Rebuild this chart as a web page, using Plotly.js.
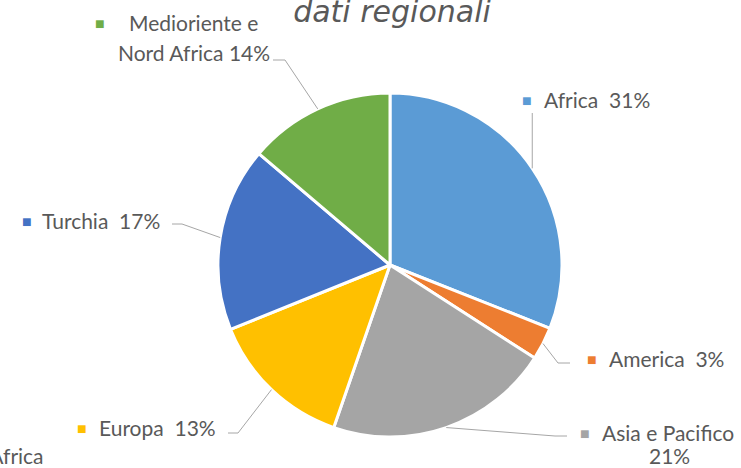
<!DOCTYPE html>
<html>
<head>
<meta charset="utf-8">
<script src="https://cdn.plot.ly/plotly-3.0.1.min.js"></script>
<style>html,body{margin:0;padding:0;background:#fff;}#chart{width:741px;height:468px;}</style>
</head>
<body>
<div id="chart"></div>
<script>
// ---- data ----
const labels = ['Africa', 'America', 'Asia e Pacifico', 'Europa', 'Turchia', 'Medioriente e Nord Africa'];
const values = [31.0, 3.1, 21.2, 13.6, 17.3, 13.8];
const percentLabels = ['31%', '3%', '21%', '13%', '17%', '14%'];
const colors = ['#5B9BD5', '#ED7D31', '#A5A5A5', '#FFC000', '#4472C4', '#70AD47'];
const titleText = 'dati regionali';

// ---- layout geometry (pixels) ----
const W = 741, H = 468;
const cx = 390, cy = 265, R = 172;
const px = x => x / W;
const py = y => 1 - y / H;
const FONT = 'Lato, "Open Sans", sans-serif';
const FS = 21;
const TXT = '#595959';
const LINE = '#A6A6A6';
const NB = '\u00A0';

// per-slice label placement: leader line elbow/end and label anchors (square + text)
const place = [
  {elbow: null, end: [null, 113], sqx: 520, tx: 542, ty: 99},
  {elbow: [558, 363], end: [570, 363], sqx: 585, tx: 607, ty: 358},
  {elbow: [555, 436], end: [567, 436], sqx: 578, tx: 600, ty: 432, pctx: 669, pcty: 455},
  {elbow: [238, 433], end: [228, 433], sqx: 75, tx: 97, ty: 427},
  {elbow: [182, 224], end: [172, 224], sqx: 20, tx: 40, ty: 220},
  {elbow: [285, 60], end: [273, 60], sqx: 93, tx: 127, ty: 22, line2x: 272, line2y: 52}
];

const total = values.reduce((a, b) => a + b, 0);
const shapes = [];
const annotations = [];
const txtFont = {family: FONT, size: FS, color: TXT};
let cum = 0;
values.forEach((v, i) => {
  const mid = (cum + v / 2) / total * 2 * Math.PI;
  cum += v;
  const ex = cx + R * Math.sin(mid);
  const ey = cy - R * Math.cos(mid);
  const p = place[i];
  const pts = [[ex, ey]];
  if (p.elbow) pts.push(p.elbow);
  pts.push([p.end[0] === null ? ex : p.end[0], p.end[1]]);
  const path = pts.map((q, k) => (k ? 'L' : 'M') + px(q[0]) + ',' + py(q[1])).join(' ');
  shapes.push({type: 'path', xref: 'paper', yref: 'paper', path: path, line: {color: LINE, width: 1}});

  // legend-style square marker
  annotations.push({xref: 'paper', yref: 'paper', x: px(p.sqx), y: py(p.ty), xanchor: 'left', yanchor: 'middle',
    text: '■', showarrow: false, font: {family: FONT, size: 16, color: colors[i]}});

  if (p.line2x !== undefined) {
    const words = labels[i].split(' ');
    annotations.push({xref: 'paper', yref: 'paper', x: px(p.tx), y: py(p.ty), xanchor: 'left', yanchor: 'middle',
      text: words.slice(0, 2).join(' '), showarrow: false, font: txtFont});
    annotations.push({xref: 'paper', yref: 'paper', x: px(p.line2x), y: py(p.line2y), xanchor: 'right', yanchor: 'middle',
      text: words.slice(2).join(' ') + ' ' + percentLabels[i], showarrow: false, font: txtFont});
  } else if (p.pctx !== undefined) {
    annotations.push({xref: 'paper', yref: 'paper', x: px(p.tx), y: py(p.ty), xanchor: 'left', yanchor: 'middle',
      text: labels[i], showarrow: false, font: txtFont});
    annotations.push({xref: 'paper', yref: 'paper', x: px(p.pctx), y: py(p.pcty), xanchor: 'center', yanchor: 'middle',
      text: percentLabels[i], showarrow: false, font: txtFont});
  } else {
    annotations.push({xref: 'paper', yref: 'paper', x: px(p.tx), y: py(p.ty), xanchor: 'left', yanchor: 'middle',
      text: labels[i] + NB + NB + percentLabels[i], showarrow: false, font: txtFont});
  }
});

// label fragment at the bottom-left edge, partly outside the picture as in the original
annotations.push({xref: 'paper', yref: 'paper', x: px(46), y: py(455), xanchor: 'right', yanchor: 'middle',
  text: 'Nord Africa', showarrow: false, font: txtFont});

const data = [{
  type: 'pie',
  labels: labels,
  values: values,
  sort: false,
  direction: 'clockwise',
  rotation: 0,
  textinfo: 'none',
  hoverinfo: 'label+percent',
  marker: {colors: colors, line: {color: '#FFFFFF', width: 3}},
  domain: {x: [px(cx - R), px(cx + R)], y: [py(cy + R), py(cy - R)]},
  showlegend: false
}];

const layout = {
  width: W, height: H,
  margin: {l: 0, r: 0, t: 0, b: 0},
  paper_bgcolor: '#FFFFFF',
  showlegend: false,
  title: {text: '<i>' + titleText + '</i>', x: px(392), xanchor: 'center', y: 1 - 11 / H, yanchor: 'middle',
    font: {family: '"DejaVu Sans", sans-serif', size: 30, color: TXT}},
  shapes: shapes,
  annotations: annotations
};

Plotly.newPlot('chart', data, layout, {displayModeBar: false, staticPlot: true});
</script>
</body>
</html>
